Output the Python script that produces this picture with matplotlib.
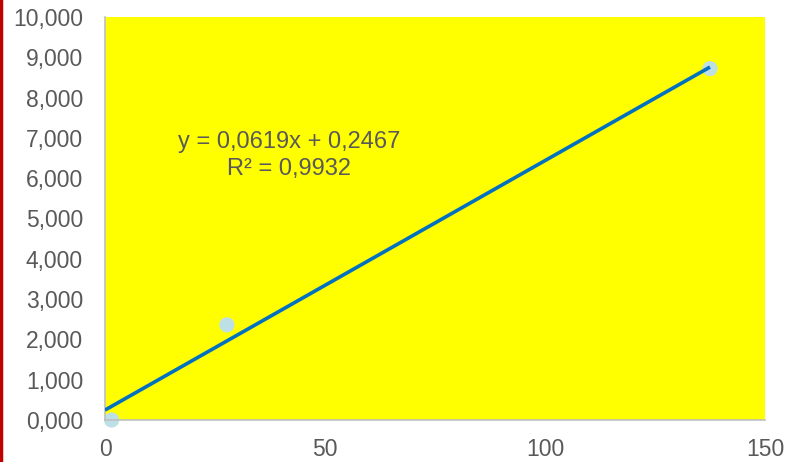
import matplotlib
matplotlib.use("Agg")
import matplotlib.pyplot as plt
from matplotlib.ticker import FuncFormatter, FixedLocator
from matplotlib.lines import Line2D
import numpy as np

plt.rcParams['font.family'] = ['Liberation Sans', 'DejaVu Sans']

x_vals = [1.5, 27.7, 137.5]
y_vals = [0.0, 2.36, 8.72]
slope = 0.0619
intercept = 0.2467
eq_text = "y = 0,0619x + 0,2467"
r2_text = "R² = 0,9932"
x_ticks = [0, 50, 100, 150]
y_ticks = [0, 1, 2, 3, 4, 5, 6, 7, 8, 9, 10]

fig = plt.figure(figsize=(7.88, 4.62), dpi=100)
ax = fig.add_axes([105/788, 42/462, 660/788, 403/462])
ax.set_facecolor('#FFFF00')

ax.scatter(x_vals, y_vals, s=120, color='#BDE0E6', zorder=2, edgecolors='none', clip_on=False)
tx = np.array([0, max(x_vals)])
ax.plot(tx, slope*tx + intercept, color='#0070C0', lw=2.6, zorder=3, solid_capstyle='butt')

ax.text(41.8, 6.75, eq_text, ha='center', va='baseline', fontsize=17, color='#595959')
ax.text(41.8, 6.08, r2_text, ha='center', va='baseline', fontsize=17, color='#595959')

ax.set_xlim(0, 150)
ax.set_ylim(0, 10)
ax.xaxis.set_major_locator(FixedLocator(x_ticks))
ax.yaxis.set_major_locator(FixedLocator(y_ticks))
ax.yaxis.set_major_formatter(FuncFormatter(lambda v, p: f"{v:.3f}".replace('.', ',')))
ax.xaxis.set_major_formatter(FuncFormatter(lambda v, p: f"{v:.0f}"))
ax.tick_params(axis='both', length=0, labelsize=16.5, colors='#595959')
ax.tick_params(axis='x', pad=13)
ax.tick_params(axis='y', pad=15.8)
for s in ['top', 'right']:
    ax.spines[s].set_visible(False)
for s in ['left', 'bottom']:
    ax.spines[s].set_color('#BFBFBF')
    ax.spines[s].set_linewidth(1.2)

fig.add_artist(Line2D([1/788, 1/788], [0, 1], transform=fig.transFigure, color='#C00000', lw=2.5))

fig.savefig('out.png', dpi=100)
